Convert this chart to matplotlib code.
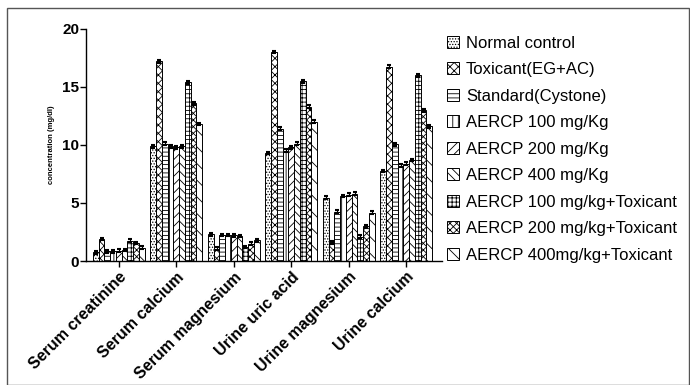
import matplotlib.pyplot as plt
import matplotlib.patches as mpatches
import numpy as np

plt.rcParams["font.family"] = ["Liberation Sans", "DejaVu Sans"]
plt.rcParams["hatch.linewidth"] = 0.6

categories = [
    "Serum creatinine",
    "Serum calcium",
    "Serum magnesium",
    "Urine uric acid",
    "Urine magnesium",
    "Urine calcium",
]
groups = [
    "Normal control",
    "Toxicant(EG+AC)",
    "Standard(Cystone)",
    "AERCP 100 mg/Kg",
    "AERCP 200 mg/Kg",
    "AERCP 400 mg/Kg",
    "AERCP 100 mg/kg+Toxicant",
    "AERCP 200 mg/kg+Toxicant",
    "AERCP 400mg/kg+Toxicant",
]

normal_control = [0.75, 9.9, 2.3, 9.3, 5.45, 7.75]
toxicant = [1.9, 17.2, 1.05, 18.0, 1.6, 16.75]
standard = [0.85, 10.1, 2.25, 11.4, 4.25, 10.05]
aercp_100 = [0.85, 9.9, 2.25, 9.5, 5.6, 8.2]
aercp_200 = [0.9, 9.8, 2.2, 9.8, 5.7, 8.4]
aercp_400 = [0.95, 9.9, 2.15, 10.1, 5.8, 8.7]
aercp_100_tox = [1.75, 15.4, 1.2, 15.5, 2.1, 16.0]
aercp_200_tox = [1.55, 13.6, 1.5, 13.3, 3.0, 13.0]
aercp_400_tox = [1.15, 11.8, 1.8, 12.0, 4.15, 11.6]
sem = 0.12

series = [
    normal_control, toxicant, standard, aercp_100, aercp_200,
    aercp_400, aercp_100_tox, aercp_200_tox, aercp_400_tox,
]
hatches = ["......", "xxxx", "----", "|||", "////", "\\\\\\\\", "++++", "xxxxx", "\\\\"]

fig = plt.figure(figsize=(6.9, 3.85), dpi=100)
ax = fig.add_axes([0.1246, 0.322, 0.516, 0.603])

x = np.arange(len(categories))
width = 0.1
for i, (vals, hatch, label) in enumerate(zip(series, hatches, groups)):
    pos = x + (i - 4) * width
    ax.bar(pos, vals, width, color="white", edgecolor="black", linewidth=0.7,
           hatch=hatch, label=label)
    ax.errorbar(pos, vals, yerr=sem, fmt="none", ecolor="black",
                elinewidth=0.8, capsize=1.5, capthick=1.5)

ax.set_xlim(-0.57, 5.62)
ax.set_ylim(0, 20)
ax.set_yticks([0, 5, 10, 15, 20])
ax.set_xticks(x)
ax.set_xticklabels(categories, rotation=45, ha="right", rotation_mode="anchor",
                   fontweight="bold", fontsize=11.5)
ax.tick_params(axis="y", labelsize=11, width=1, length=4, pad=1)
ax.tick_params(axis="x", width=1, length=4, pad=2)
for lbl in ax.get_yticklabels():
    lbl.set_fontweight("bold")
ax.spines["top"].set_visible(False)
ax.spines["right"].set_visible(False)
ax.spines["left"].set_linewidth(1)
ax.spines["bottom"].set_linewidth(1)
ax.set_ylabel("concentration (mg/dl)", fontsize=5.5, fontweight="bold", labelpad=5)

ax.legend(loc="upper left", bbox_to_anchor=(0.638, 0.925),
          bbox_transform=fig.transFigure, frameon=False, fontsize=12,
          handlelength=0.75, handleheight=0.75, handletextpad=0.4,
          labelspacing=0.69, borderaxespad=0)

fig.patches.append(mpatches.Rectangle((0.01, 0.0), 0.988, 0.98, transform=fig.transFigure,
                                      fill=False, edgecolor="#555555", linewidth=1))

fig.savefig("out.png", dpi=100)
